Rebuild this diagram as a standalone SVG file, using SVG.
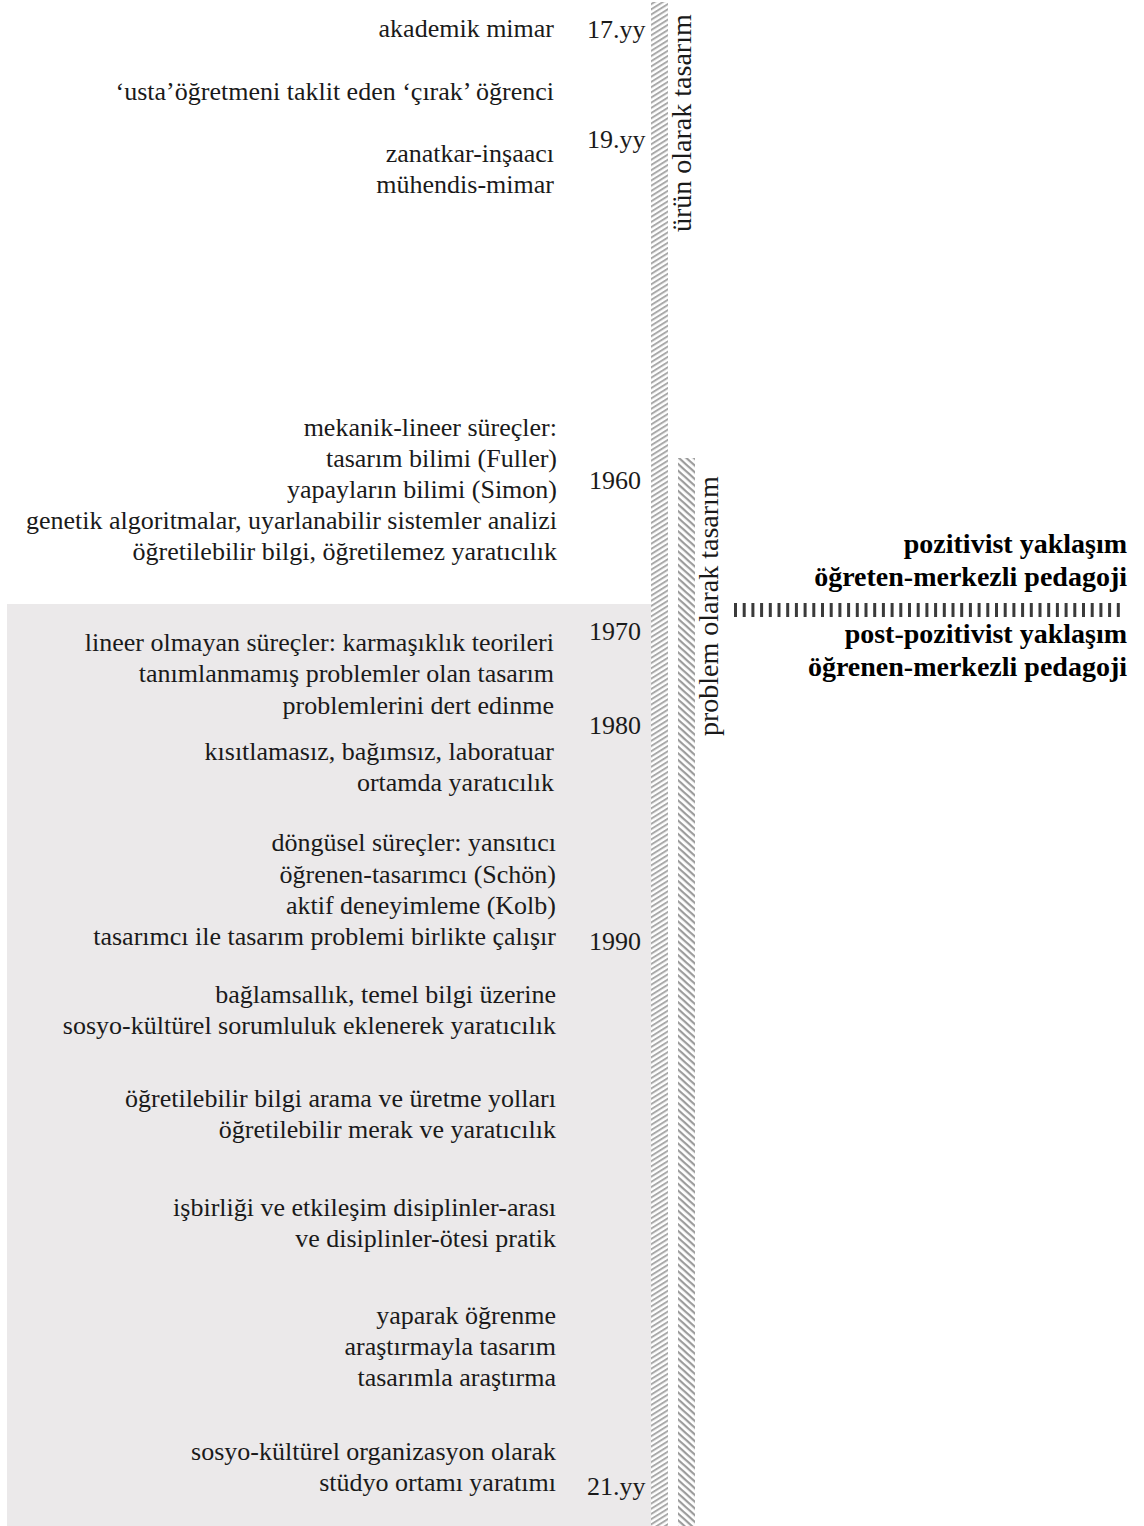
<svg xmlns="http://www.w3.org/2000/svg" width="1144" height="1526" viewBox="0 0 1144 1526">
  <defs>
    <!-- diagonal hatching for the two period bars -->
    <pattern id="hatchA" patternUnits="userSpaceOnUse" width="12" height="4.4" patternTransform="rotate(-32)">
      <rect x="0" y="0" width="12" height="2" fill="#a9a9a9"/>
    </pattern>
    <pattern id="hatchB" patternUnits="userSpaceOnUse" width="12" height="5" patternTransform="rotate(42)">
      <rect x="0" y="0" width="12" height="2.2" fill="#9c9c9c"/>
    </pattern>
    <style>
      .item { font-family: "Liberation Serif", "Times New Roman", serif; font-size: 26px; fill: #1a1a1a; text-anchor: end; }
      .year { font-family: "Liberation Serif", "Times New Roman", serif; font-size: 26px; fill: #1a1a1a; }
      .axis { font-family: "Liberation Serif", "Times New Roman", serif; font-size: 28px; fill: #1a1a1a; }
      .para { font-family: "Liberation Serif", "Times New Roman", serif; font-size: 28px; font-weight: bold; fill: #000; text-anchor: end; }
    </style>
  </defs>

  <rect width="1144" height="1526" fill="#ffffff"/>

  <!-- shaded post-1970 band -->
  <rect id="band" x="7" y="604" width="644" height="922" fill="#ebe9ea"/>

  <!-- period bars -->
  <g id="bar-product">
    <rect x="651" y="2" width="17" height="1524" fill="url(#hatchA)"/>
    <text class="axis" transform="translate(691,232) rotate(-90)">ürün olarak tasarım</text>
  </g>
  <g id="bar-problem">
    <rect x="678" y="458" width="17" height="1068" fill="url(#hatchB)"/>
    <text class="axis" transform="translate(718,736) rotate(-90)">problem olarak tasarım</text>
  </g>

  <!-- years -->
  <g id="years">
    <text class="year" x="587" y="38">17.yy</text>
    <text class="year" x="587" y="148">19.yy</text>
    <text class="year" x="589" y="489">1960</text>
    <text class="year" x="589" y="640">1970</text>
    <text class="year" x="589" y="734">1980</text>
    <text class="year" x="589" y="950">1990</text>
    <text class="year" x="587" y="1495">21.yy</text>
  </g>

  <!-- timeline entries -->
  <g id="entries">
    <text class="item" x="554" y="37">akademik mimar</text>
    <text class="item" x="554" y="100">‘usta’öğretmeni taklit eden ‘çırak’ öğrenci</text>
    <text class="item" x="554" y="162">zanatkar-inşaacı</text>
    <text class="item" x="554" y="193">mühendis-mimar</text>

    <text class="item" x="557" y="436">mekanik-lineer süreçler:</text>
    <text class="item" x="557" y="467">tasarım bilimi (Fuller)</text>
    <text class="item" x="557" y="498">yapayların bilimi (Simon)</text>
    <text class="item" x="557" y="529">genetik algoritmalar, uyarlanabilir sistemler analizi</text>
    <text class="item" x="557" y="560">öğretilebilir bilgi, öğretilemez yaratıcılık</text>

    <text class="item" x="554" y="651">lineer olmayan süreçler: karmaşıklık teorileri</text>
    <text class="item" x="554" y="682">tanımlanmamış problemler olan tasarım</text>
    <text class="item" x="554" y="714">problemlerini dert edinme</text>

    <text class="item" x="554" y="760">kısıtlamasız, bağımsız, laboratuar</text>
    <text class="item" x="554" y="791">ortamda yaratıcılık</text>

    <text class="item" x="556" y="851">döngüsel süreçler: yansıtıcı</text>
    <text class="item" x="556" y="883">öğrenen-tasarımcı (Schön)</text>
    <text class="item" x="556" y="914">aktif deneyimleme (Kolb)</text>
    <text class="item" x="556" y="945">tasarımcı ile tasarım problemi birlikte çalışır</text>

    <text class="item" x="556" y="1003">bağlamsallık, temel bilgi üzerine</text>
    <text class="item" x="556" y="1034">sosyo-kültürel sorumluluk eklenerek yaratıcılık</text>

    <text class="item" x="556" y="1107">öğretilebilir bilgi arama ve üretme yolları</text>
    <text class="item" x="556" y="1138">öğretilebilir merak ve yaratıcılık</text>

    <text class="item" x="556" y="1216">işbirliği ve etkileşim disiplinler-arası</text>
    <text class="item" x="556" y="1247">ve disiplinler-ötesi pratik</text>

    <text class="item" x="556" y="1324">yaparak öğrenme</text>
    <text class="item" x="556" y="1355">araştırmayla tasarım</text>
    <text class="item" x="556" y="1386">tasarımla araştırma</text>

    <text class="item" x="556" y="1460">sosyo-kültürel organizasyon olarak</text>
    <text class="item" x="556" y="1491">stüdyo ortamı yaratımı</text>
  </g>

  <!-- paradigm labels and divider -->
  <g id="paradigms">
    <text class="para" x="1127" y="553">pozitivist yaklaşım</text>
    <text class="para" x="1127" y="586">öğreten-merkezli pedagoji</text>
    <line x1="734" y1="610" x2="1123" y2="610" stroke="#3a3a3a" stroke-width="14" stroke-dasharray="3 5.7"/>
    <text class="para" x="1127" y="643">post-pozitivist yaklaşım</text>
    <text class="para" x="1127" y="676">öğrenen-merkezli pedagoji</text>
  </g>
</svg>
